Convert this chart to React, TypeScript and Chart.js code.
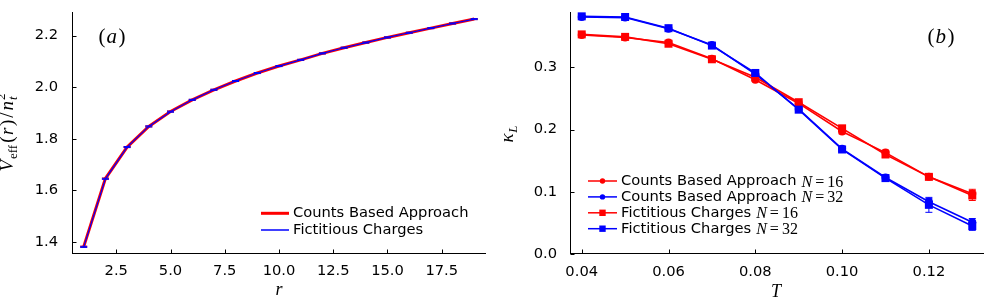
import React, { useEffect, useRef } from "react";
import { Chart, registerables } from "chart.js";

Chart.register(...registerables);

// ---------- Panel (a) data ----------
const rValues = [1, 2, 3, 4, 5, 6, 7, 8, 9, 10, 11, 12, 13, 14, 15, 16, 17, 18, 19];
const vCounts = [1.382, 1.646, 1.768, 1.848, 1.906, 1.951, 1.99, 2.024, 2.055, 2.082, 2.106, 2.131, 2.153, 2.173, 2.193, 2.211, 2.229, 2.247, 2.264];
const vFictitious = [1.381, 1.645, 1.768, 1.848, 1.905, 1.951, 1.99, 2.024, 2.055, 2.082, 2.106, 2.131, 2.153, 2.173, 2.193, 2.211, 2.229, 2.247, 2.264];
const vErrCounts = [0.002, 0.002, 0.002, 0.002, 0.002, 0.002, 0.002, 0.002, 0.002, 0.002, 0.002, 0.002, 0.002, 0.002, 0.002, 0.002, 0.002, 0.002, 0.002];
const vErrFictitious = [0.002, 0.002, 0.002, 0.002, 0.002, 0.002, 0.002, 0.002, 0.002, 0.002, 0.002, 0.002, 0.002, 0.002, 0.002, 0.002, 0.002, 0.002, 0.002];
const rTicks = [2.5, 5, 7.5, 10, 12.5, 15, 17.5];
const vTicks = [1.4, 1.6, 1.8, 2.0, 2.2];
const legendA = ["Counts Based Approach", "Fictitious Charges"];

// ---------- Panel (b) data ----------
const tValues = [0.04, 0.05, 0.06, 0.07, 0.08, 0.09, 0.1, 0.11, 0.12, 0.13];
const kCounts16 = [0.352, 0.348, 0.34, 0.314, 0.28, 0.242, 0.197, 0.163, 0.124, 0.097];
const kCounts32 = [0.381, 0.38, 0.362, 0.336, 0.289, 0.233, 0.169, 0.123, 0.084, 0.051];
const kFict16 = [0.353, 0.349, 0.338, 0.313, 0.284, 0.244, 0.202, 0.16, 0.124, 0.094];
const kFict32 = [0.382, 0.381, 0.363, 0.335, 0.291, 0.232, 0.168, 0.122, 0.079, 0.045];
const eCounts16 = [0.002, 0.002, 0.003, 0.003, 0.003, 0.003, 0.004, 0.004, 0.004, 0.007];
const eCounts32 = [0.002, 0.002, 0.002, 0.003, 0.003, 0.003, 0.004, 0.004, 0.005, 0.006];
const eFict16 = [0.002, 0.002, 0.003, 0.003, 0.003, 0.003, 0.004, 0.005, 0.004, 0.008];
const eFict32 = [0.002, 0.002, 0.002, 0.003, 0.003, 0.003, 0.003, 0.004, 0.012, 0.007];
const tTicks = [0.04, 0.06, 0.08, 0.1, 0.12];
const kTicks = [0, 0.1, 0.2, 0.3];
const legendB = ["Counts Based Approach", "Counts Based Approach", "Fictitious Charges", "Fictitious Charges"];
const legendBN = ["16", "32", "16", "32"];

const RED = "#ff0000";
const BLUE = "#0000ff";
const SANS = "DejaVu Sans";
const SERIF = "Liberation Serif";
const FS = 14.7;

type Seg = { t: string; f: string; dy?: number; adv?: boolean; gap?: number };

function segWidth(ctx: CanvasRenderingContext2D, segs: Seg[]) {
  let w = 0;
  for (const s of segs) {
    ctx.font = s.f;
    const m = ctx.measureText(s.t).width;
    if (s.adv !== false) w += m + (s.gap || 0);
  }
  return w;
}

function drawSegs(ctx: CanvasRenderingContext2D, segs: Seg[], x: number, y: number) {
  let cx = x;
  for (const s of segs) {
    ctx.font = s.f;
    ctx.fillText(s.t, cx, y + (s.dy || 0));
    const m = ctx.measureText(s.t).width;
    if (s.adv !== false) cx += m + (s.gap || 0);
  }
  return cx;
}

type PanelOpts = {
  xTicks: number[];
  yTicks: number[];
  errs: number[][];
  extras: (ctx: CanvasRenderingContext2D, chart: any) => void;
};

function makePlugin(p: PanelOpts) {
  return {
    id: "panelDecor",
    beforeDatasetDraw(chart: any, args: any) {
      const errs = p.errs[args.index];
      if (!errs) return;
      const ds = chart.data.datasets[args.index];
      const ctx = chart.ctx as CanvasRenderingContext2D;
      const xs = chart.scales.x;
      const ys = chart.scales.y;
      const ca = chart.chartArea;
      ctx.save();
      ctx.beginPath();
      ctx.rect(ca.left, ca.top - 2, ca.right - ca.left, ca.bottom - ca.top + 2);
      ctx.clip();
      ctx.strokeStyle = ds.borderColor;
      ctx.lineWidth = 1;
      ds.data.forEach((pt: any, i: number) => {
        const px = xs.getPixelForValue(pt.x);
        const y1 = ys.getPixelForValue(pt.y - errs[i]);
        const y2 = ys.getPixelForValue(pt.y + errs[i]);
        ctx.beginPath();
        ctx.moveTo(px, y1);
        ctx.lineTo(px, y2);
        ctx.moveTo(px - 3.5, y1);
        ctx.lineTo(px + 3.5, y1);
        ctx.moveTo(px - 3.5, y2);
        ctx.lineTo(px + 3.5, y2);
        ctx.stroke();
      });
      ctx.restore();
    },
    afterDraw(chart: any) {
      const ctx = chart.ctx as CanvasRenderingContext2D;
      const ca = chart.chartArea;
      const xs = chart.scales.x;
      const ys = chart.scales.y;
      ctx.save();
      ctx.strokeStyle = "#000";
      ctx.lineWidth = 1;
      const ax = Math.round(ca.left) + 0.5;
      const ay = Math.round(ca.bottom) - 0.5;
      ctx.beginPath();
      ctx.moveTo(ax, ca.top);
      ctx.lineTo(ax, ay + 0.5);
      ctx.moveTo(ax - 0.5, ay);
      ctx.lineTo(ca.right, ay);
      for (const v of p.xTicks) {
        const px = Math.round(xs.getPixelForValue(v)) + 0.5;
        ctx.moveTo(px, ay);
        ctx.lineTo(px, ay - 4);
      }
      for (const v of p.yTicks) {
        const py = Math.round(ys.getPixelForValue(v)) + 0.5;
        ctx.moveTo(ax, py);
        ctx.lineTo(ax + 4, py);
      }
      ctx.stroke();
      ctx.fillStyle = "#000";
      p.extras(ctx, chart);
      ctx.restore();
    },
  };
}

function axisOpts(min: number, max: number, ticks: number[], digits: number, pad: number, size: { w?: number; h?: number }) {
  return {
    type: "linear" as const,
    min,
    max,
    grid: { display: false, drawTicks: false, tickLength: 0 },
    border: { display: false },
    ticks: {
      padding: pad,
      autoSkip: false,
      maxRotation: 0,
      color: "#000",
      font: { size: FS, family: SANS },
      callback: (v: any) => Number(v).toFixed(digits),
    },
    afterBuildTicks: (s: any) => {
      s.ticks = ticks.map((v) => ({ value: v }));
    },
    afterFit: (s: any) => {
      if (size.w !== undefined) s.width = size.w;
      if (size.h !== undefined) s.height = size.h;
      s.paddingTop = 0;
      s.paddingBottom = 0;
      s.paddingLeft = 0;
      s.paddingRight = 0;
    },
  };
}

function extrasA(ctx: CanvasRenderingContext2D) {
  ctx.textBaseline = "alphabetic";
  const lab: Seg[] = [
    { t: "(", f: `21px ${SERIF}`, gap: 1 },
    { t: "a", f: `italic 21px ${SERIF}`, gap: 1.5 },
    { t: ")", f: `21px ${SERIF}` },
  ];
  const lw = segWidth(ctx, lab);
  drawSegs(ctx, lab, 112 - lw / 2, 43);
  ctx.font = `italic 18px ${SERIF}`;
  ctx.textAlign = "center";
  ctx.fillText("r", 279, 295);
  ctx.textAlign = "left";
  const yl: Seg[] = [
    { t: "V", f: `italic 19px ${SERIF}`, gap: 1 },
    { t: "eff", f: `13px ${SERIF}`, dy: 4, gap: 2 },
    { t: "(", f: `19px ${SERIF}`, gap: 1.5 },
    { t: "r", f: `italic 19px ${SERIF}`, gap: 1.5 },
    { t: ")", f: `19px ${SERIF}`, gap: 2 },
    { t: "/", f: `19px ${SERIF}`, gap: 2 },
    { t: "n", f: `italic 19px ${SERIF}`, gap: 1 },
    { t: "2", f: `13px ${SERIF}`, dy: -8, adv: false },
    { t: "t", f: `italic 13px ${SERIF}`, dy: 4 },
  ];
  ctx.save();
  ctx.translate(13, 134);
  ctx.rotate(-Math.PI / 2);
  const w = segWidth(ctx, yl);
  drawSegs(ctx, yl, -w / 2, 0);
  ctx.restore();
  ctx.lineWidth = 3;
  ctx.strokeStyle = RED;
  ctx.beginPath();
  ctx.moveTo(261, 213.3);
  ctx.lineTo(289, 213.3);
  ctx.stroke();
  ctx.lineWidth = 1.5;
  ctx.strokeStyle = BLUE;
  ctx.beginPath();
  ctx.moveTo(261, 230);
  ctx.lineTo(289, 230);
  ctx.stroke();
  ctx.font = `${FS}px ${SANS}`;
  ctx.textBaseline = "middle";
  ctx.fillText(legendA[0], 293, 213.5);
  ctx.fillText(legendA[1], 293, 230.2);
}

function extrasB(ctx: CanvasRenderingContext2D) {
  ctx.textBaseline = "alphabetic";
  const lab: Seg[] = [
    { t: "(", f: `21px ${SERIF}`, gap: 1 },
    { t: "b", f: `italic 21px ${SERIF}`, gap: 1.5 },
    { t: ")", f: `21px ${SERIF}` },
  ];
  const lw = segWidth(ctx, lab);
  drawSegs(ctx, lab, 443 - lw / 2, 43);
  ctx.font = `italic 18px ${SERIF}`;
  ctx.textAlign = "center";
  ctx.fillText("T", 278, 297);
  ctx.textAlign = "left";
  const yl: Seg[] = [
    { t: "κ", f: `italic 19px ${SERIF}`, gap: 0.5 },
    { t: "L", f: `italic 13px ${SERIF}`, dy: 4 },
  ];
  ctx.save();
  ctx.translate(15, 134);
  ctx.rotate(-Math.PI / 2);
  const w = segWidth(ctx, yl);
  drawSegs(ctx, yl, -w / 2, 0);
  ctx.restore();
  const colors = [RED, BLUE, RED, BLUE];
  const square = [false, false, true, true];
  for (let i = 0; i < 4; i++) {
    const y = 181 + i * 15.9;
    ctx.strokeStyle = colors[i];
    ctx.fillStyle = colors[i];
    ctx.lineWidth = 1.5;
    ctx.beginPath();
    ctx.moveTo(90, y);
    ctx.lineTo(119, y);
    ctx.stroke();
    ctx.beginPath();
    if (square[i]) ctx.rect(104.5 - 3.2, y - 3.2, 6.4, 6.4);
    else ctx.arc(104.5, y, 2.7, 0, Math.PI * 2);
    ctx.fill();
    ctx.fillStyle = "#000";
    ctx.font = `${FS}px ${SANS}`;
    ctx.textBaseline = "middle";
    ctx.fillText(legendB[i], 123, y);
    const tw = ctx.measureText(legendB[i]).width;
    ctx.textBaseline = "alphabetic";
    const math: Seg[] = [
      { t: "N", f: `italic 16px ${SERIF}`, gap: 3 },
      { t: "=", f: `16px ${SERIF}`, gap: 3 },
      { t: legendBN[i], f: `16px ${SERIF}` },
    ];
    drawSegs(ctx, math, 123 + tw + 5, y + 5.5);
  }
}

function useChart(ref: React.RefObject<HTMLCanvasElement | null>, build: () => any) {
  useEffect(() => {
    if (!ref.current) return;
    const chart = new Chart(ref.current, build());
    return () => chart.destroy();
  }, []);
}

export default function App() {
  const refA = useRef<HTMLCanvasElement | null>(null);
  const refB = useRef<HTMLCanvasElement | null>(null);

  useChart(refA, () => ({
    type: "line",
    data: {
      datasets: [
        {
          label: legendA[0],
          data: rValues.map((r, i) => ({ x: r, y: vCounts[i] })),
          borderColor: RED,
          borderWidth: 3,
          pointRadius: 0,
          order: 2,
        },
        {
          label: legendA[1],
          data: rValues.map((r, i) => ({ x: r, y: vFictitious[i] })),
          borderColor: BLUE,
          borderWidth: 1.2,
          pointRadius: 0,
          order: 1,
        },
      ],
    },
    options: {
      animation: false,
      responsive: false,
      events: [],
      layout: { padding: { left: 0, top: 12, right: 12, bottom: 0 } },
      plugins: { legend: { display: false }, tooltip: { enabled: false } },
      scales: {
        x: axisOpts(0.46, 19.54, rTicks, 1, 8, { h: 45 }),
        y: axisOpts(1.3535, 2.2915, vTicks, 1, 14, { w: 72 }),
      },
    },
    plugins: [makePlugin({ xTicks: rTicks, yTicks: vTicks, errs: [vErrCounts, vErrFictitious], extras: extrasA })],
  }));

  useChart(refB, () => {
    const mk = (label: string, ys: number[], color: string, square: boolean, order: number) => ({
      label,
      data: tValues.map((t, i) => ({ x: t, y: ys[i] })),
      borderColor: color,
      backgroundColor: color,
      borderWidth: 1.6,
      pointStyle: square ? "rect" : "circle",
      pointRadius: square ? 5.66 : 4,
      pointBorderWidth: 0,
      pointBackgroundColor: color,
      order,
    });
    return {
      type: "line",
      data: {
        datasets: [
          mk(legendB[0] + " N=16", kCounts16, RED, false, 4),
          mk(legendB[1] + " N=32", kCounts32, BLUE, false, 3),
          mk(legendB[2] + " N=16", kFict16, RED, true, 2),
          mk(legendB[3] + " N=32", kFict32, BLUE, true, 1),
        ],
      },
      options: {
        animation: false,
        responsive: false,
        events: [],
        layout: { padding: { left: 0, top: 12, right: 12, bottom: 0 } },
        plugins: { legend: { display: false }, tooltip: { enabled: false } },
        scales: {
          x: axisOpts(0.0373, 0.1327, tTicks, 2, 9, { h: 45 }),
          y: axisOpts(0, 0.389, kTicks, 1, 13, { w: 72 }),
        },
      },
      plugins: [makePlugin({ xTicks: tTicks, yTicks: kTicks, errs: [eCounts16, eCounts32, eFict16, eFict32], extras: extrasB })],
    };
  });

  return (
    <div style={{ position: "fixed", left: 0, top: 0, width: 996, height: 299, background: "#fff" }}>
      <canvas ref={refA} width={498} height={299} style={{ position: "absolute", left: 0, top: 0, width: 498, height: 299 }} />
      <canvas ref={refB} width={498} height={299} style={{ position: "absolute", left: 498, top: 0, width: 498, height: 299 }} />
    </div>
  );
}
